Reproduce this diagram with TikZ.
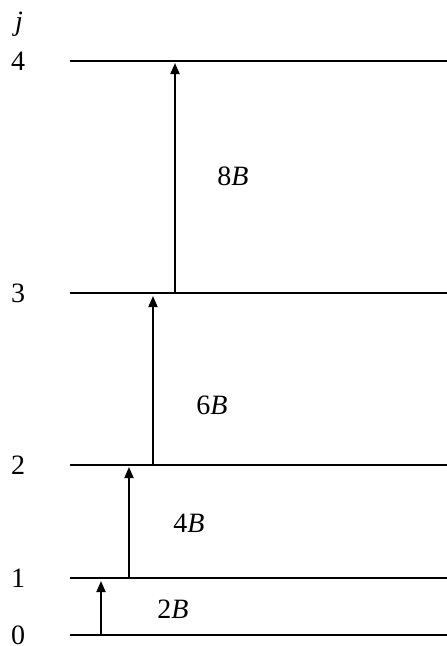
\documentclass[tikz,border=0pt]{standalone}
\usepackage{fontspec}
\setmainfont{Liberation Serif}
\usetikzlibrary{arrows.meta}
\begin{document}
\begin{tikzpicture}[x=1pt,y=-1pt,
  level/.style={line width=1.8pt},
  trans/.style={line width=1.8pt,-{Triangle[length=11pt,width=9pt]}},
  lab/.style={font=\fontsize{28}{28}\selectfont,inner sep=0pt},
  elab/.style={font=\fontsize{28}{28}\selectfont,inner sep=0pt}]
\useasboundingbox (0,0) rectangle (447,646);
\node[lab] (jl) at (19,24) {\textit{j}};
\foreach \n/\y in {4/61,3/293,2/465,1/578,0/635}{
  \node[lab] (n\n) at (18,\y) {\n};
  \coordinate (L\n) at (70,\y);
  \coordinate (R\n) at (447,\y);
  \draw[level] (L\n) -- (R\n);
}
\coordinate (a0) at (101,635); \coordinate (a1) at (101,581);
\coordinate (b0) at (129,578); \coordinate (b1) at (129,467);
\coordinate (c0) at (153,465); \coordinate (c1) at (153,296);
\coordinate (d0) at (175,293); \coordinate (d1) at (175,63);
\draw[trans] (a0) -- (a1);
\draw[trans] (b0) -- (b1);
\draw[trans] (c0) -- (c1);
\draw[trans] (d0) -- (d1);
\node[elab] (e2) at (173,609) {2\textit{B}};
\node[elab] (e4) at (189,523) {4\textit{B}};
\node[elab] (e6) at (212,405) {6\textit{B}};
\node[elab] (e8) at (233,176) {8\textit{B}};
\end{tikzpicture}
\end{document}
